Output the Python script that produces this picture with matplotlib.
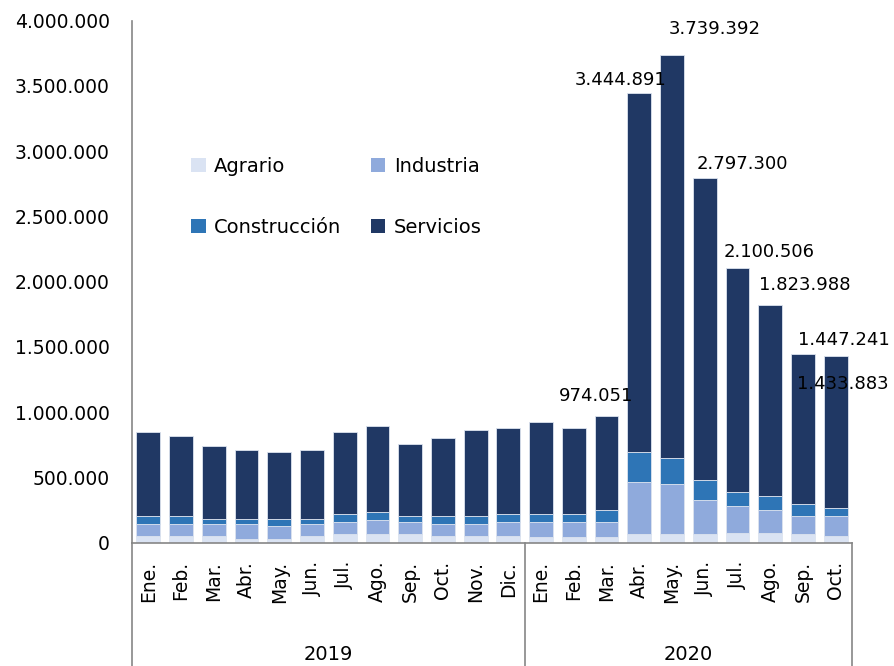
import matplotlib
matplotlib.use("Agg")
import matplotlib.pyplot as plt
from matplotlib.patches import Patch
import numpy as np

months = ["Ene.", "Feb.", "Mar.", "Abr.", "May.", "Jun.", "Jul.", "Ago.", "Sep.", "Oct.", "Nov.", "Dic.",
          "Ene.", "Feb.", "Mar.", "Abr.", "May.", "Jun.", "Jul.", "Ago.", "Sep.", "Oct."]
years = ["2019", "2020"]
year_counts = [12, 10]

agrario = [50000, 50000, 50000, 32000, 32000, 50000, 65000, 65000, 65000, 50000, 50000, 50000,
           44000, 44000, 44000, 63000, 63000, 65000, 78000, 78000, 65000, 52000]
industria = [91000, 91000, 91000, 109000, 94000, 91000, 92000, 107000, 92000, 91000, 91000, 107000,
             113000, 113000, 113000, 400000, 384000, 260000, 203000, 170000, 138000, 151000]
construccion = [62000, 62000, 44000, 44000, 59000, 44000, 61000, 61000, 46000, 62000, 62000, 61000,
                61000, 61000, 91000, 229000, 199000, 153000, 105000, 107000, 91000, 61000]
servicios = [648000, 617000, 557000, 526000, 511000, 526000, 633000, 664000, 556000, 602000, 663000, 663000,
             705000, 660000, 726051, 2752891, 3093392, 2319300, 1714506, 1468988, 1153241, 1169883]

labeled_idx = [14, 15, 16, 17, 18, 19, 20, 21]
label_offsets_px = [(-10, 20), (-19, 13), (43, 26), (38, 14), (32, 16), (35, 20), (41, 14), (7, -28)]

colors = {"Agrario": "#DAE3F3", "Industria": "#8FAADC", "Construcción": "#2E75B6", "Servicios": "#203864"}

def fmt(v):
    return f"{int(round(v)):,}".replace(",", ".")

fig = plt.figure(figsize=(8.94, 6.66), dpi=100)
ax = fig.add_axes([132/894, 1 - 542.7/666, 720/894, (542.7 - 20.5)/666])

x = np.arange(len(months))
w = 0.73
bottom = np.zeros(len(months))
series = [("Agrario", agrario), ("Industria", industria), ("Construcción", construccion), ("Servicios", servicios)]
for name, vals in series:
    vals = np.array(vals, dtype=float)
    ax.bar(x, vals, w, bottom=bottom, color=colors[name], edgecolor="#DCE3EF", linewidth=0.6, label=name, zorder=2)
    bottom = bottom + vals

totals = bottom
for i, (dx, dy) in zip(labeled_idx, label_offsets_px):
    ax.annotate(fmt(totals[i]), xy=(x[i], totals[i]), xytext=(dx, dy), textcoords="offset pixels",
                ha="center", va="center", fontsize=13, color="black", zorder=5)

ax.set_xlim(-0.5, len(months) - 0.5)
ax.set_ylim(0, 4000000)
ax.set_yticks(np.arange(0, 4000001, 500000))
ax.set_yticklabels([fmt(v) for v in np.arange(0, 4000001, 500000)], fontsize=13.5)
ax.tick_params(axis="y", length=0, pad=16)
ax.set_xticks(x)
ax.set_xticklabels(months, rotation=90, fontsize=13.5, va="top")
ax.tick_params(axis="x", length=0, pad=13)

for s in ["top", "right"]:
    ax.spines[s].set_visible(False)
ax.spines["left"].set_color("#868686")
ax.spines["bottom"].set_color("#868686")
ax.spines["left"].set_linewidth(1.2)
ax.spines["bottom"].set_linewidth(1.2)

# group separators and year labels
axh = 542.7 - 20.5
ybot = -(666 - 542.7) / axh
trans = ax.get_xaxis_transform()
edges = np.concatenate([[0], np.cumsum(year_counts)]) - 0.5
for e in edges:
    ax.plot([e, e], [0, ybot], transform=trans, color="#868686", lw=1.2, clip_on=False)
for k, yr in enumerate(years):
    cx = (edges[k] + edges[k + 1]) / 2
    ax.text(cx, ybot + 11/axh, yr, transform=trans, ha="center", va="center", fontsize=14)

order = ["Agrario", "Construcción", "Industria", "Servicios"]
handles = [Patch(facecolor=colors[n], edgecolor="none") for n in order]
leg = ax.legend(handles, order, ncol=2, loc="upper left", bbox_to_anchor=(59/720, (542.7-157)/axh),
                frameon=False, fontsize=14, handlelength=0.75, handleheight=0.75, handletextpad=0.45,
                columnspacing=1.5, labelspacing=2.15, borderpad=0, borderaxespad=0)

fig.savefig("out.png", dpi=100)
